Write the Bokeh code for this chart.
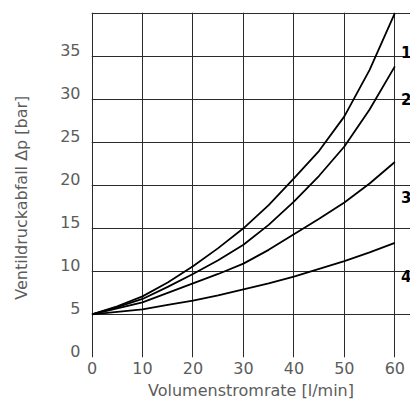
from bokeh.plotting import figure
from bokeh.models import FixedTicker, Range1d, ColumnDataSource
from bokeh.core.properties import value
from bokeh.embed import file_html
from bokeh.resources import INLINE

# data
flow = [0, 5, 10, 15, 20, 25, 30, 35, 40, 45, 50, 55, 60]
curve1 = [5, 5.95, 7.1, 8.7, 10.6, 12.7, 15.0, 17.7, 20.8, 24.0, 28.0, 33.4, 40.0]
curve2 = [5, 5.85, 6.8, 8.2, 9.7, 11.3, 13.1, 15.4, 18.1, 21.1, 24.5, 28.8, 33.8]
curve3 = [5, 5.7, 6.4, 7.5, 8.6, 9.7, 10.9, 12.5, 14.3, 16.1, 18.0, 20.2, 22.7]
curve4 = [5, 5.3, 5.6, 6.1, 6.6, 7.2, 7.9, 8.6, 9.4, 10.3, 11.2, 12.2, 13.3]
curve_names = ["1", "2", "3", "4"]
curve_label_y = [35.5, 30.0, 18.6, 9.5]

x_ticks = [0, 10, 20, 30, 40, 50, 60]
y_ticks = [0, 5, 10, 15, 20, 25, 30, 35]
x_grid = [0, 10, 20, 30, 40, 50, 60]
y_grid = [5, 10, 15, 20, 25, 30, 35, 40]

FONT = "DejaVu Sans"
TXT = "#5c5c5c"
label_shift = 0.7

p = figure(width=410, height=405, x_range=Range1d(-0.1, 63.1), y_range=Range1d(0, 40.06),
           output_backend="svg", toolbar_location=None,
           min_border_left=91, min_border_right=0, min_border_top=12, min_border_bottom=48)
p.outline_line_color = None
p.background_fill_color = "white"
p.border_fill_color = "white"

# grid forms the box and inner lines
xg = p.xgrid[0]
xg.ticker = FixedTicker(ticks=x_grid)
xg.bounds = (y_grid[0], y_grid[-1])
xg.grid_line_color = "#2a2a2a"
xg.grid_line_width = 1
yg = p.ygrid[0]
yg.ticker = FixedTicker(ticks=y_grid)
yg.bounds = (x_grid[0], x_grid[-1])
yg.grid_line_color = "#2a2a2a"
yg.grid_line_width = 1

# x axis
xa = p.xaxis[0]
xa.ticker = FixedTicker(ticks=x_ticks)
xa.axis_line_color = None
xa.major_tick_line_color = None
xa.minor_tick_line_color = None
xa.major_tick_out = 0
xa.major_label_standoff = 4
xa.major_label_text_font = FONT
xa.major_label_text_font_size = "16px"
xa.major_label_text_color = TXT
xa.axis_label = "Volumenstromrate [l/min]"
xa.axis_label_text_font = FONT
xa.axis_label_text_font_size = "16px"
xa.axis_label_text_font_style = "normal"
xa.axis_label_text_color = TXT
xa.axis_label_standoff = 4

# y axis (labels sit slightly above their grid lines)
ya = p.yaxis[0]
pos = [round(v + label_shift, 3) for v in y_ticks]
ya.ticker = FixedTicker(ticks=pos)
ya.major_label_overrides = {pp: str(v) for pp, v in zip(pos, y_ticks)}
ya.axis_line_color = None
ya.major_tick_line_color = None
ya.minor_tick_line_color = None
ya.major_tick_out = 0
ya.major_label_standoff = 11
ya.major_label_text_font = FONT
ya.major_label_text_font_size = "16px"
ya.major_label_text_color = TXT
ya.axis_label = "Ventildruckabfall Δp [bar]" + "\u00a0" * 5
ya.axis_label_text_font = FONT
ya.axis_label_text_font_size = "16px"
ya.axis_label_text_font_style = "normal"
ya.axis_label_text_color = TXT
ya.axis_label_standoff = 26

for c in [curve1, curve2, curve3, curve4]:
    p.line(flow, c, line_color="black", line_width=1.8)

lab = ColumnDataSource(dict(x=[flow[-1] + 1.2] * len(curve_names), y=curve_label_y, t=curve_names))
p.text(x="x", y="y", text="t", source=lab, text_font=value(FONT), text_font_size="15px",
       text_font_style="bold", text_color="black", text_align="left", text_baseline="middle")

open("out.html", "w").write(file_html(p, INLINE))
